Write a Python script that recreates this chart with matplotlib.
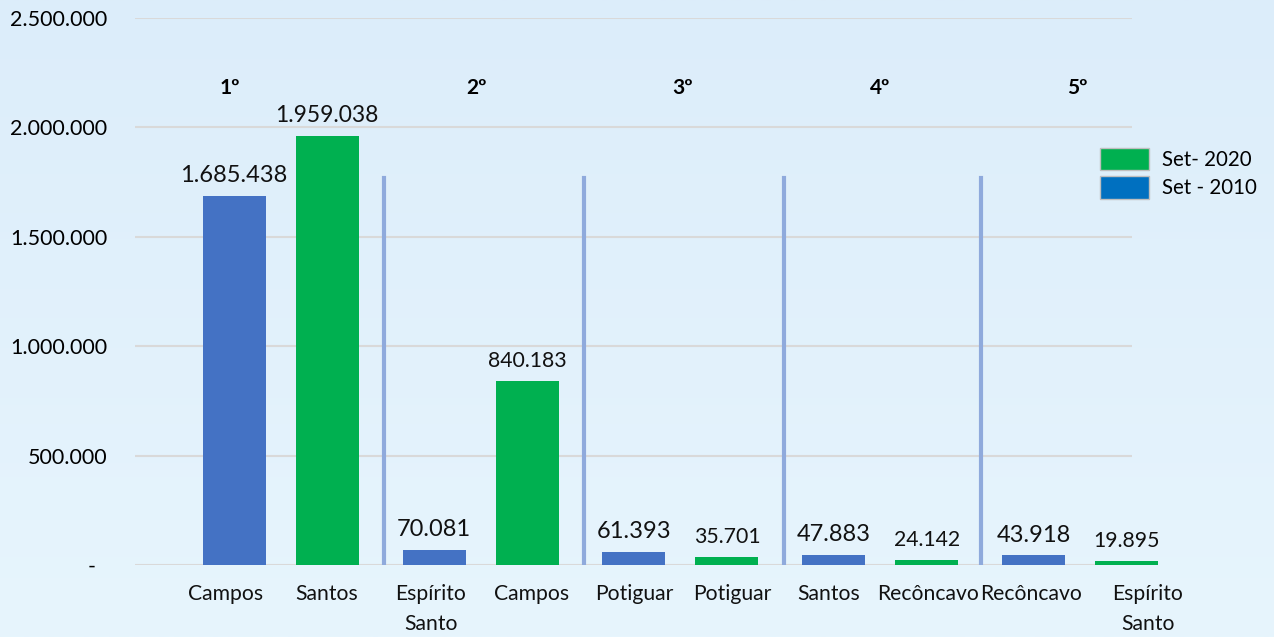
import numpy as np
import matplotlib.pyplot as plt
from matplotlib.patches import Patch
from matplotlib.transforms import blended_transform_factory, offset_copy

# Data
categories = ["Campos", "Santos", "Espírito\nSanto", "Campos", "Potiguar",
              "Potiguar", "Santos", "Recôncavo", "Recôncavo", "Espírito\nSanto"]
series = ["Set - 2010", "Set- 2020", "Set - 2010", "Set- 2020", "Set - 2010",
          "Set- 2020", "Set - 2010", "Set- 2020", "Set - 2010", "Set- 2020"]
values = [1685438, 1959038, 70081, 840183, 61393, 35701, 47883, 24142, 43918, 19895]
ranks = ["1º", "2º", "3º", "4º", "5º"]

plt.rcParams['font.family'] = ['Lato', 'DejaVu Sans']

blue = '#4472C4'
green = '#00B050'
legend_blue = '#0070C0'
label_sizes = [17, 16.5, 17, 15.3, 17, 15.3, 17, 15.3, 17, 15.3]
label_shift = [-0.08, 0, -0.03, 0.05, 0, 0.05, -0.05, 0.01, -0.03, 0.21]

fig = plt.figure(figsize=(12.74, 6.37), dpi=100)

# light blue gradient background
bg = fig.add_axes([0, 0, 1, 1], zorder=-10)
grad = np.linspace(0, 1, 256).reshape(-1, 1)
top_c = np.array([220, 237, 250]) / 255
bot_c = np.array([231, 245, 253]) / 255
img = top_c + (bot_c - top_c) * grad[:, :, None]
bg.imshow(img, aspect='auto', extent=[0, 1, 0, 1])
bg.axis('off')

ax = fig.add_axes([0.106, 0.113, 0.7825, 0.859])
ax.patch.set_alpha(0)

x = np.arange(len(categories))
xs = np.array([xi - 0.07 if s == "Set- 2020" else xi for xi, s in zip(x, series)])
colors = [green if s == "Set- 2020" else blue for s in series]
ax.bar(xs, values, width=0.63, color=colors, zorder=3, clip_on=False)

for xi, v, fs in zip(xs, values, label_sizes):
    label = f"{v:,}".replace(",", ".")
    ax.text(xi, v + 45000, label, ha='center', va='bottom', fontsize=fs, color='#111111')

# category labels (drawn as text so the last one can sit past the plot edge)
trans = offset_copy(blended_transform_factory(ax.transData, ax.transAxes),
                    fig=fig, y=-14, units='points')
for xi, sh, cat in zip(xs, label_shift, categories):
    ax.text(xi + sh, 0, cat, transform=trans, ha='center', va='top',
            fontsize=15.2, linespacing=1.6, clip_on=False, color='#111111')

# group separators
for sx in [1.5, 3.5, 5.5, 7.47]:
    ax.plot([sx, sx], [10000, 1770000], color='#8FAADC', lw=3, zorder=2)

# rank labels
for rx, r in zip([-0.04, 2.42, 4.49, 6.46, 8.43], ranks):
    ax.text(rx, 2180000, r, ha='center', va='center', fontsize=15, fontweight='bold')

yt = np.arange(0, 2500001, 500000)
ax.set_yticks(yt)
ax.set_yticklabels(["-  " if t == 0 else f"{t:,}".replace(",", ".") for t in yt])
ax.set_xticks([])
ax.set_xlim(-0.99, 8.98)
ax.set_ylim(0, 2500000)
ax.tick_params(axis='y', length=0, pad=20, labelsize=15.5)
ax.grid(axis='y', color='#D9D9D9', lw=1.5, zorder=0)
for sp in ax.spines.values():
    sp.set_visible(False)

handles = [Patch(facecolor=green, edgecolor='#BFBFBF', label='Set- 2020'),
           Patch(facecolor=legend_blue, edgecolor='#BFBFBF', label='Set - 2010')]
fig.legend(handles=handles, loc='upper left', bbox_to_anchor=(0.849, 0.797),
           frameon=False, fontsize=14.8, handlelength=2.4, handleheight=1.3,
           labelspacing=0.3, handletextpad=0.6)

fig.savefig('out.png', dpi=100)
